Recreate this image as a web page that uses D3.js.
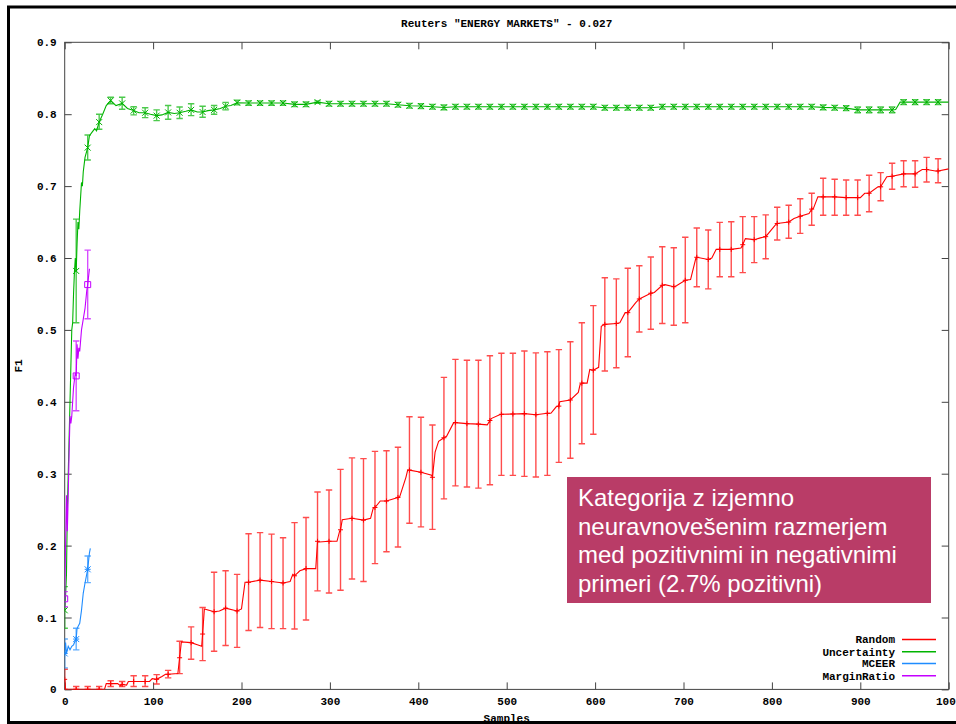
<!DOCTYPE html>
<html>
<head>
<meta charset="utf-8">
<script src="https://cdn.jsdelivr.net/npm/d3@7"></script>
<style>
  html, body { margin: 0; padding: 0; background: #fff; }
  svg { display: block; }
</style>
</head>
<body>
<svg id="chart" width="956" height="724"></svg>
<script>
// ---- texts and ticks ----
const titleText = 'Reuters "ENERGY MARKETS" - 0.027';
const xLabel = "Samples";
const yLabel = "F1";
const xTicks = [0, 100, 200, 300, 400, 500, 600, 700, 800, 900, 1000];
const yTicks = [0, 0.1, 0.2, 0.3, 0.4, 0.5, 0.6, 0.7, 0.8, 0.9];
const seriesNames = ["Random", "Uncertainty", "MCEER", "MarginRatio"];
const seriesColors = ["#ff0000", "#00b400", "#1e8cff", "#c400ff"];
const noteLines = [
  "Kategorija z izjemno",
  "neuravnovešenim razmerjem",
  "med pozitivnimi in negativnimi",
  "primeri (2.7% pozitivni)"
];

// ---- error-bar samples: [samples, mean F1, low, high] ----
const randomBars = [
  [0, 0.014, 0, 0.028], [13, 0, 0, 0.004], [26, 0, 0, 0.004], [39, 0, 0, 0.004],
  [52, 0.008, 0.004, 0.012], [65, 0.007, 0.004, 0.011], [78, 0.011, 0.004, 0.019],
  [91, 0.011, 0.004, 0.019], [104, 0.014, 0.0075, 0.0205], [117, 0.021, 0.016, 0.0265],
  [130, 0.044, 0.022, 0.067], [143, 0.065, 0.042, 0.087], [156, 0.077, 0.040, 0.114],
  [169, 0.108, 0.053, 0.163], [182, 0.113, 0.061, 0.165], [195, 0.109, 0.0585, 0.160],
  [208, 0.149, 0.082, 0.2165], [221, 0.152, 0.086, 0.218], [234, 0.150, 0.0845, 0.216],
  [247, 0.148, 0.0845, 0.211], [260, 0.158, 0.084, 0.232], [273, 0.168, 0.0965, 0.239],
  [286, 0.206, 0.137, 0.2745], [299, 0.206, 0.134, 0.2773], [312, 0.222, 0.138, 0.306],
  [325, 0.238, 0.1535, 0.322], [338, 0.2355, 0.150, 0.321], [351, 0.253, 0.175, 0.331],
  [364, 0.262, 0.1915, 0.332], [377, 0.267, 0.198, 0.3367], [390, 0.305, 0.231, 0.3793],
  [403, 0.302, 0.226, 0.3785], [416, 0.295, 0.2225, 0.3677], [429, 0.350, 0.265, 0.434],
  [442, 0.371, 0.283, 0.459], [455, 0.3696, 0.2815, 0.4577], [468, 0.369, 0.280, 0.4577],
  [481, 0.374, 0.2847, 0.464], [494, 0.3826, 0.2977, 0.4675], [507, 0.383, 0.2977, 0.4675],
  [520, 0.3835, 0.2963, 0.4707], [533, 0.382, 0.2954, 0.468], [546, 0.384, 0.2977, 0.4697],
  [559, 0.394, 0.3158, 0.4725], [572, 0.4025, 0.3214, 0.4836], [585, 0.426, 0.3417, 0.510],
  [598, 0.444, 0.3548, 0.5337], [611, 0.5077, 0.4428, 0.5726], [624, 0.509, 0.4474, 0.571],
  [637, 0.524, 0.4627, 0.5857], [650, 0.543, 0.497, 0.5893], [663, 0.551, 0.5008, 0.6014],
  [676, 0.562, 0.509, 0.6157], [689, 0.560, 0.5064, 0.6143], [702, 0.569, 0.510, 0.6288],
  [715, 0.601, 0.560, 0.6417], [728, 0.598, 0.557, 0.639], [741, 0.612, 0.574, 0.6496],
  [754, 0.612, 0.574, 0.6505], [767, 0.6185, 0.5796, 0.6575], [780, 0.6255, 0.5935, 0.6575],
  [793, 0.6297, 0.599, 0.660], [806, 0.648, 0.625, 0.6705], [819, 0.650, 0.6274, 0.6733],
  [832, 0.658, 0.6343, 0.6825], [845, 0.668, 0.6455, 0.690], [858, 0.685, 0.6594, 0.711],
  [871, 0.685, 0.6594, 0.7095], [884, 0.684, 0.6594, 0.7085], [897, 0.684, 0.6594, 0.7085],
  [910, 0.690, 0.6644, 0.715], [923, 0.699, 0.6797, 0.7187], [936, 0.7137, 0.6956, 0.7317],
  [949, 0.717, 0.699, 0.7353], [962, 0.717, 0.6983, 0.7353], [975, 0.723, 0.7057, 0.740],
  [988, 0.721, 0.7047, 0.738]
];
// mean curve between the error bars: [samples, F1]
const randomTrace = [
  [1, 0], [45, 0], [47, 0.008], [60, 0.008], [63, 0.005], [70, 0.006], [72, 0.011],
  [96, 0.011], [99, 0.015], [110, 0.018], [114, 0.021], [128, 0.022], [132, 0.066],
  [150, 0.062], [155, 0.060], [158, 0.112], [175, 0.109], [200, 0.112], [204, 0.149],
  [255, 0.150], [258, 0.160], [266, 0.165], [284, 0.168], [288, 0.205], [308, 0.206],
  [311, 0.220], [314, 0.236], [346, 0.238], [349, 0.252], [357, 0.262], [379, 0.268],
  [386, 0.295], [388, 0.305], [415, 0.298], [419, 0.330], [423, 0.345], [432, 0.352],
  [440, 0.371], [478, 0.368], [483, 0.377], [492, 0.382], [550, 0.384], [556, 0.393],
  [560, 0.400], [581, 0.413], [583, 0.424], [591, 0.426], [594, 0.445], [604, 0.448],
  [607, 0.505], [628, 0.510], [634, 0.524], [646, 0.538], [667, 0.552], [679, 0.563],
  [692, 0.5615], [708, 0.570], [714, 0.600], [732, 0.600], [737, 0.612], [765, 0.614],
  [770, 0.627], [787, 0.628], [804, 0.646], [825, 0.655], [842, 0.662], [847, 0.669],
  [852, 0.685], [900, 0.684], [905, 0.690], [920, 0.699], [930, 0.713], [955, 0.717],
  [970, 0.723], [985, 0.721], [1000, 0.724]
];

const uncertaintyBars = [
  [0, 0.110, 0.085, 0.143], [13, 0.582, 0.510, 0.654], [26, 0.7535, 0.7363, 0.771],
  [39, 0.789, 0.779, 0.800], [52, 0.819, 0.8145, 0.8235], [65, 0.815, 0.8068, 0.8235],
  [78, 0.805, 0.799, 0.8104], [91, 0.802, 0.7952, 0.809], [104, 0.798, 0.791, 0.806],
  [117, 0.8025, 0.793, 0.812], [130, 0.802, 0.794, 0.810], [143, 0.806, 0.798, 0.8145],
  [156, 0.803, 0.7957, 0.811], [169, 0.806, 0.800, 0.812], [182, 0.811, 0.806, 0.8165],
  [195, 0.816, 0.813, 0.8193], [208, 0.8155, 0.8125, 0.8185], [221, 0.8155, 0.8125, 0.8185],
  [234, 0.8155, 0.8125, 0.8185], [247, 0.8155, 0.8125, 0.8185], [260, 0.8137, 0.8105, 0.8170],
  [273, 0.8137, 0.8105, 0.8170], [286, 0.8168, 0.8150, 0.8186], [299, 0.8145, 0.8112, 0.8178],
  [312, 0.8145, 0.8112, 0.8178], [325, 0.8145, 0.8112, 0.8178], [338, 0.8145, 0.8112, 0.8178],
  [351, 0.8145, 0.8112, 0.8178], [364, 0.8145, 0.8112, 0.8178], [377, 0.8131, 0.8098, 0.8164],
  [390, 0.8117, 0.8084, 0.8150], [403, 0.8113, 0.8080, 0.8146], [416, 0.8104, 0.8071, 0.8137],
  [429, 0.8094, 0.8061, 0.8127], [442, 0.8104, 0.8071, 0.8137], [455, 0.8104, 0.8071, 0.8137],
  [468, 0.8104, 0.8071, 0.8137], [481, 0.8104, 0.8071, 0.8137], [494, 0.8104, 0.8071, 0.8137],
  [507, 0.8104, 0.8071, 0.8137], [520, 0.8104, 0.8071, 0.8137], [533, 0.8104, 0.8071, 0.8137],
  [546, 0.8104, 0.8071, 0.8137], [559, 0.8104, 0.8071, 0.8137], [572, 0.8104, 0.8071, 0.8137],
  [585, 0.8104, 0.8071, 0.8137], [598, 0.8104, 0.8071, 0.8137], [611, 0.8090, 0.8057, 0.8123],
  [624, 0.8090, 0.8057, 0.8123], [637, 0.8090, 0.8057, 0.8123], [650, 0.8090, 0.8057, 0.8123],
  [663, 0.8090, 0.8057, 0.8123], [676, 0.8104, 0.8071, 0.8137], [689, 0.8104, 0.8071, 0.8137],
  [702, 0.8104, 0.8071, 0.8137], [715, 0.8104, 0.8071, 0.8137], [728, 0.8104, 0.8071, 0.8137],
  [741, 0.8104, 0.8071, 0.8137], [754, 0.8104, 0.8071, 0.8137], [767, 0.8104, 0.8071, 0.8137],
  [780, 0.8104, 0.8071, 0.8137], [793, 0.8104, 0.8071, 0.8137], [806, 0.8104, 0.8071, 0.8137],
  [819, 0.8104, 0.8071, 0.8137], [832, 0.8104, 0.8071, 0.8137], [845, 0.8104, 0.8071, 0.8137],
  [858, 0.8095, 0.8062, 0.8128], [871, 0.8090, 0.8057, 0.8123], [884, 0.8085, 0.8052, 0.8118],
  [897, 0.8060, 0.8020, 0.8100], [910, 0.8060, 0.8020, 0.8100], [923, 0.8060, 0.8020, 0.8100],
  [936, 0.8060, 0.8020, 0.8100], [949, 0.8168, 0.8135, 0.8201], [962, 0.8168, 0.8135, 0.8201],
  [975, 0.8168, 0.8135, 0.8201], [988, 0.8168, 0.8135, 0.8201]
];
const uncertaintyTrace = [
  [1, 0.13], [2, 0.16], [3, 0.25], [4, 0.30], [5, 0.35], [6, 0.40], [7, 0.45], [8, 0.50],
  [9, 0.51], [10, 0.55], [11, 0.58], [12, 0.60], [14, 0.62], [15, 0.65], [16, 0.64],
  [17, 0.665], [19, 0.705], [20, 0.70], [21, 0.72], [23, 0.74], [28, 0.77], [31, 0.775],
  [34, 0.78], [36, 0.777], [43, 0.80], [47, 0.812], [58, 0.812], [71, 0.808], [84, 0.802],
  [97, 0.800], [110, 0.799], [124, 0.801], [137, 0.804], [150, 0.803], [162, 0.805],
  [176, 0.808], [188, 0.812], [940, 0.8065], [945, 0.8168], [1000, 0.8168]
];

const mceerBars = [
  [0, 0.050, 0.030, 0.070], [13, 0.070, 0.055, 0.085], [26, 0.167, 0.1485, 0.1855]
];
const mceerTrace = [
  [1, 0.065], [2, 0.050], [4, 0.060], [6, 0.055], [8, 0.060], [10, 0.062], [12, 0.068],
  [14, 0.085], [17, 0.092], [19, 0.110], [21, 0.134], [23, 0.148], [28, 0.190], [29, 0.196]
];

const marginBars = [
  [0, 0.126, 0.115, 0.136], [13, 0.436, 0.3876, 0.4845], [26, 0.563, 0.5156, 0.611]
];
const marginTrace = [
  [1, 0.20], [2, 0.27], [3, 0.22], [4, 0.27], [5, 0.33], [6, 0.38], [7, 0.37], [8, 0.38],
  [10, 0.42], [12, 0.44], [14, 0.48], [15, 0.46], [16, 0.475], [17, 0.47], [19, 0.50],
  [21, 0.515], [23, 0.53], [25, 0.555], [28, 0.585]
];

// ---- layout ----
const plot = { left: 64.7, right: 948.7, top: 42.3, bottom: 689.4 };
const svg = d3.select("#chart");
const x = d3.scaleLinear().domain([0, 1000]).range([plot.left, plot.right]);
const y = d3.scaleLinear().domain([0, 0.9]).range([plot.bottom, plot.top]);
const monoFont = "'Liberation Mono', 'DejaVu Sans Mono', monospace";

// outer frame of the figure
svg.append("path")
  .attr("d", "M8.5,740 V7 H970 M8.5,722.5 H970")
  .attr("fill", "none").attr("stroke", "#000").attr("stroke-width", 3);

// title
svg.append("text")
  .attr("x", (plot.left + plot.right) / 2).attr("y", 27)
  .attr("text-anchor", "middle")
  .style("font-family", monoFont).style("font-size", "11px").style("font-weight", "bold")
  .text(titleText);

// axes: gnuplot-like inward ticks on all four sides
function styleAxis(g) {
  g.select(".domain").remove();
  g.selectAll(".tick line").attr("stroke", "#444");
  g.selectAll(".tick text")
    .style("font-family", monoFont).style("font-size", "11px").style("font-weight", "bold")
    .attr("fill", "#000");
}
const xFmt = d3.format("d");
const yFmt = v => v === 0 ? "0" : d3.format(".1f")(v);

svg.append("g").attr("transform", `translate(0,${plot.bottom})`)
  .call(d3.axisBottom(x).tickValues(xTicks).tickSizeInner(-7).tickSizeOuter(0).tickPadding(8).tickFormat(xFmt))
  .call(styleAxis);
svg.append("g").attr("transform", `translate(0,${plot.top})`)
  .call(d3.axisTop(x).tickValues(xTicks).tickSizeInner(-7).tickSizeOuter(0).tickFormat(""))
  .call(styleAxis);
svg.append("g").attr("transform", `translate(${plot.left},0)`)
  .call(d3.axisLeft(y).tickValues(yTicks).tickSizeInner(-7).tickSizeOuter(0).tickPadding(8).tickFormat(yFmt))
  .call(styleAxis);
svg.append("g").attr("transform", `translate(${plot.right},0)`)
  .call(d3.axisRight(y).tickValues(yTicks).tickSizeInner(-7).tickSizeOuter(0).tickFormat(""))
  .call(styleAxis);

// plot border
svg.append("rect")
  .attr("x", plot.left).attr("y", plot.top)
  .attr("width", plot.right - plot.left).attr("height", plot.bottom - plot.top)
  .attr("fill", "none").attr("stroke", "#444").attr("stroke-width", 1);

// axis titles
svg.append("text")
  .attr("x", (plot.left + plot.right) / 2).attr("y", 722)
  .attr("text-anchor", "middle")
  .style("font-family", monoFont).style("font-size", "11px").style("font-weight", "bold")
  .text(xLabel);
svg.append("text")
  .attr("transform", "translate(22,366) rotate(-90)")
  .attr("text-anchor", "middle")
  .style("font-family", monoFont).style("font-size", "11px").style("font-weight", "bold")
  .text(yLabel);

// clip region for the data
svg.append("clipPath").attr("id", "plotClip")
  .append("rect")
  .attr("x", plot.left).attr("y", plot.top)
  .attr("width", plot.right - plot.left).attr("height", plot.bottom - plot.top);
const dataLayer = svg.append("g").attr("clip-path", "url(#plotClip)");

const markerPaths = {
  plus:   s => `M${-s},0H${s}M0,${-s}V${s}`,
  cross:  s => `M${-s},${-s}L${s},${s}M${-s},${s}L${s},${-s}`,
  star:   s => `M${-s},0H${s}M0,${-s}V${s}M${-s},${-s}L${s},${s}M${-s},${s}L${s},${-s}`,
  square: s => `M${-s},${-s}H${s}V${s}H${-s}Z`
};

const lineGen = d3.line().x(d => x(d[0])).y(d => y(d[1])).curve(d3.curveLinear);

function drawSeries(bars, trace, color, marker) {
  const g = dataLayer.append("g");
  // error bars with caps
  const cap = 3.2;
  const eb = g.append("g")
    .attr("stroke", color).attr("stroke-width", 1.4).attr("stroke-opacity", 0.7).attr("fill", "none");
  eb.selectAll("path").data(bars).join("path")
    .attr("d", d => {
      const cx = x(d[0]), lo = y(d[2]), hi = y(d[3]);
      return `M${cx},${lo}V${hi}M${cx - cap},${lo}H${cx + cap}M${cx - cap},${hi}H${cx + cap}`;
    });
  // mean curve through bar means and intermediate readings
  const pts = bars.map(d => [d[0], d[1]]).concat(trace).sort((a, b) => a[0] - b[0]);
  g.append("path").datum(pts)
    .attr("d", lineGen)
    .attr("fill", "none").attr("stroke", color).attr("stroke-width", 1.1);
  // point markers at each error bar
  g.append("g").attr("stroke", color).attr("stroke-width", 1).attr("fill", "none")
    .selectAll("path").data(bars).join("path")
    .attr("transform", d => `translate(${x(d[0])},${y(d[1])})`)
    .attr("d", markerPaths[marker](marker === "plus" ? 2.5 : 3));
}

drawSeries(randomBars, randomTrace, seriesColors[0], "plus");
drawSeries(uncertaintyBars, uncertaintyTrace, seriesColors[1], "cross");
drawSeries(mceerBars, mceerTrace, seriesColors[2], "star");
drawSeries(marginBars, marginTrace, seriesColors[3], "square");

// legend
const legendRowY = [639.5, 651.8, 663.5, 675.8];
const legend = svg.append("g");
seriesNames.forEach((name, i) => {
  legend.append("text")
    .attr("x", 895).attr("y", legendRowY[i]).attr("dy", "0.35em")
    .attr("text-anchor", "end")
    .style("font-family", monoFont).style("font-size", "11px").style("font-weight", "bold")
    .text(name);
  legend.append("path")
    .attr("d", `M902,${legendRowY[i]}H936`)
    .attr("fill", "none")
    .attr("stroke", seriesColors[i]).attr("stroke-width", 1.5);
});

// annotation box
const note = svg.append("g");
note.append("rect")
  .attr("x", 567).attr("y", 477).attr("width", 364).attr("height", 126)
  .attr("fill", "#b93c67");
const noteBaselines = [506, 534.5, 563, 591.5];
noteLines.forEach((t, i) => {
  note.append("text")
    .attr("x", 578).attr("y", noteBaselines[i])
    .attr("fill", "#fff")
    .style("font-family", "'Liberation Sans', Arial, sans-serif").style("font-size", "24px")
    .text(t);
});
</script>
</body>
</html>
